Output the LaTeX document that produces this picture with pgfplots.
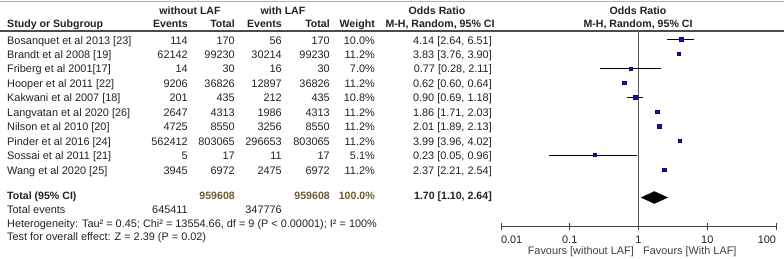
\documentclass[border=0pt]{standalone}
\usepackage{pgfplots}
\pgfplotsset{compat=1.18}
\usepackage{fontspec}
\setmainfont{Liberation Sans}
\definecolor{txt}{HTML}{222222}
\definecolor{tot}{HTML}{6E5C2E}
\definecolor{sq}{HTML}{1414B4}
\definecolor{sqd}{HTML}{0A0A6E}
\newcommand\hb{\fontsize{10.6}{12}\selectfont\bfseries}
\newcommand\Row[8]{%
  \pgfmathsetmacro\yb{-(44+14.47*#1)}%
  \node[anchor=base west] at (7pt,\yb pt) {#2};
  \node[anchor=base east] at (188pt,\yb pt) {#3};
  \node[anchor=base east] at (235pt,\yb pt) {#4};
  \node[anchor=base east] at (282pt,\yb pt) {#5};
  \node[anchor=base east] at (330pt,\yb pt) {#6};
  \node[anchor=base east] at (375pt,\yb pt) {#7};
  \node[anchor=base east] at (492pt,\yb pt) {#8};
}
\begin{document}
\begin{tikzpicture}[font=\fontsize{10.9}{12}\selectfont, every node/.style={inner sep=0pt, text=txt}]
\useasboundingbox (0,0) rectangle (784pt,-258pt);
\draw[black!30, line width=1pt] (0,-1.5pt) -- (784pt,-1.5pt);
\draw[black!70, line width=1.3pt] (0,-31pt) -- (784pt,-31pt);
% headers
\node[anchor=base, font=\hb] at (190pt,-14pt) {without LAF};
\node[anchor=base, font=\hb] at (283pt,-14pt) {with LAF};
\node[anchor=base, font=\hb] at (437pt,-14pt) {Odds Ratio};
\node[anchor=base, font=\hb] at (638pt,-14pt) {Odds Ratio};
\node[anchor=base west, font=\hb] at (7pt,-27.5pt) {Study or Subgroup};
\node[anchor=base east, font=\hb] at (188pt,-27.5pt) {Events};
\node[anchor=base east, font=\hb] at (235pt,-27.5pt) {Total};
\node[anchor=base east, font=\hb] at (282pt,-27.5pt) {Events};
\node[anchor=base east, font=\hb] at (330pt,-27.5pt) {Total};
\node[anchor=base east, font=\hb] at (375pt,-27.5pt) {Weight};
\node[anchor=base, font=\hb] at (440pt,-27.5pt) {M-H, Random, 95\% CI};
\node[anchor=base, font=\hb] at (638pt,-27.5pt) {M-H, Random, 95\% CI};
% rows
\Row{0}{Bosanquet et al 2013 [23]}{114}{170}{56}{170}{10.0\%}{4.14 [2.64, 6.51]}
\Row{1}{Brandt et al 2008 [19]}{62142}{99230}{30214}{99230}{11.2\%}{3.83 [3.76, 3.90]}
\Row{2}{Friberg et al 2001[17]}{14}{30}{16}{30}{7.0\%}{0.77 [0.28, 2.11]}
\Row{3}{Hooper et al 2011 [22]}{9206}{36826}{12897}{36826}{11.2\%}{0.62 [0.60, 0.64]}
\Row{4}{Kakwani et al 2007 [18]}{201}{435}{212}{435}{10.8\%}{0.90 [0.69, 1.18]}
\Row{5}{Langvatan et al 2020 [26]}{2647}{4313}{1986}{4313}{11.2\%}{1.86 [1.71, 2.03]}
\Row{6}{Nilson et al 2010 [20]}{4725}{8550}{3256}{8550}{11.2\%}{2.01 [1.89, 2.13]}
\Row{7}{Pinder et al 2016 [24]}{562412}{803065}{296653}{803065}{11.2\%}{3.99 [3.96, 4.02]}
\Row{8}{Sossai et al 2011 [21]}{5}{17}{11}{17}{5.1\%}{0.23 [0.05, 0.96]}
\Row{9}{Wang et al 2020 [25]}{3945}{6972}{2475}{6972}{11.2\%}{2.37 [2.21, 2.54]}
% totals
\node[anchor=base west, font=\hb] at (7pt,-199.5pt) {Total (95\% CI)};
\node[anchor=base east, font=\hb, text=tot] at (235pt,-199.5pt) {959608};
\node[anchor=base east, font=\hb, text=tot] at (330pt,-199.5pt) {959608};
\node[anchor=base east, font=\hb, text=tot] at (375pt,-199.5pt) {100.0\%};
\node[anchor=base east, font=\hb] at (492pt,-199.5pt) {1.70 [1.10, 2.64]};
\node[anchor=base west] at (7pt,-213.5pt) {Total events};
\node[anchor=base east] at (188pt,-213.5pt) {645411};
\node[anchor=base east] at (282pt,-213.5pt) {347776};
\node[anchor=base west] at (7pt,-227pt) {Heterogeneity: Tau² = 0.45; Chi² = 13554.66, df = 9 (P < 0.00001); I² = 100\%};
\node[anchor=base west] at (7pt,-240.5pt) {Test for overall effect: Z = 2.39 (P = 0.02)};
\node[anchor=base east, text=black!75] at (634pt,-254pt) {Favours [without LAF]};
\node[anchor=base west, text=black!75] at (643pt,-254pt) {Favours [With LAF]};
\begin{axis}[at={(501pt,-226pt)}, anchor=south west, scale only axis,
  width=275pt, height=195pt, xmode=log, xmin=0.01, xmax=100,
  ymin=-226, ymax=-31, axis x line*=bottom, axis y line=none,
  xtick={0.01,0.1,1,10,100}, xticklabels={\rlap{0.01},0.1,1,10,\llap{100}},
  xminorticks=false, tick align=center, major tick length=7pt,
  x axis line style={black!75, line width=0.9pt},
  xtick style={black!75, line width=0.9pt},
  xticklabel style={anchor=base, yshift=-14pt, font=\fontsize{10.9}{12}\selectfont, text=txt},
  clip=false]
\addplot[black!65, line width=0.9pt] coordinates {(1,-31) (1,-226)};
% confidence intervals
\addplot[black, line width=0.8pt] coordinates {(2.64,-39.3) (6.51,-39.3)};
\addplot[black, line width=0.8pt] coordinates {(3.76,-53.8) (3.90,-53.8)};
\addplot[black, line width=0.8pt] coordinates {(0.28,-68.2) (2.11,-68.2)};
\addplot[black, line width=0.8pt] coordinates {(0.60,-82.7) (0.64,-82.7)};
\addplot[black, line width=0.8pt] coordinates {(0.69,-97.2) (1.18,-97.2)};
\addplot[black, line width=0.8pt] coordinates {(1.71,-111.6) (2.03,-111.6)};
\addplot[black, line width=0.8pt] coordinates {(1.89,-126.1) (2.13,-126.1)};
\addplot[black, line width=0.8pt] coordinates {(3.96,-140.6) (4.02,-140.6)};
\addplot[black, line width=0.8pt] coordinates {(0.05,-155.0) (0.96,-155.0)};
\addplot[black, line width=0.8pt] coordinates {(2.21,-169.5) (2.54,-169.5)};
% point estimates
\addplot[only marks, mark=square*, mark size=1.9pt, fill=sq, draw=sqd] coordinates {(4.14,-39.3)};
\addplot[only marks, mark=square*, mark size=1.8pt, fill=sq, draw=sqd] coordinates {(3.83,-53.8) (0.62,-82.7) (1.86,-111.6) (2.01,-126.1) (3.99,-140.6) (2.37,-169.5)};
\addplot[only marks, mark=square*, mark size=1.5pt, fill=sq, draw=sqd] coordinates {(0.77,-68.2)};
\addplot[only marks, mark=square*, mark size=1.9pt, fill=sq, draw=sqd] coordinates {(0.90,-97.2)};
\addplot[only marks, mark=square*, mark size=1.4pt, fill=sq, draw=sqd] coordinates {(0.23,-155.0)};
% pooled diamond
\addplot[fill=black, draw=black] coordinates {(1.10,-197.5) (1.70,-191.5) (2.64,-197.5) (1.70,-203.5)} -- cycle;
\end{axis}
\end{tikzpicture}
\end{document}
